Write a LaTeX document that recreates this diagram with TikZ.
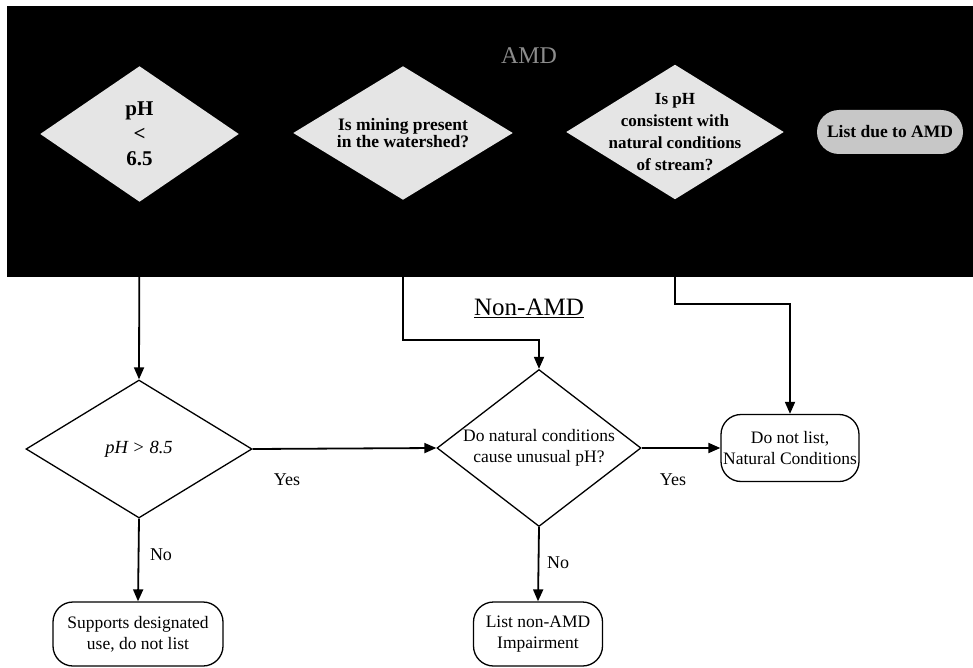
\documentclass[tikz,border=0pt]{standalone}
\usepackage{fontspec}
\setmainfont{Liberation Serif}
\usetikzlibrary{shapes.geometric,arrows.meta}
\tikzset{
  dia/.style={shape=diamond, draw=black, line width=1.3pt, inner sep=0pt},
  topdia/.style={dia, fill=white!90!black, draw=none},
  lbl/.style={align=center, font=\fontsize{17.5}{21}\selectfont},
  toplbl/.style={align=center, font=\bfseries\fontsize{17}{22}\selectfont},
  endbox/.style={draw=black, line width=1.3pt, rounded corners=20pt, inner sep=0pt, align=center, font=\fontsize{17.5}{21}\selectfont},
  arr/.style={line width=1.8pt, -{Triangle[width=10pt,length=12pt]}},
  yn/.style={font=\fontsize{18}{20}\selectfont}
}
\begin{document}
\begin{tikzpicture}[x=1pt,y=-1pt]
\useasboundingbox (0,0) rectangle (973,668);
\fill[black] (7,6) rectangle (973,277);
\node[text=black!45, font=\fontsize{24}{26}\selectfont] (amd) at (529,56) {AMD};
\node[topdia, minimum width=199pt, minimum height=136pt,
  label={[align=center, font=\bfseries\fontsize{21}{25}\selectfont]center:{pH\\<\\6.5}}] (d1) at (139.5,134) {};
\node[topdia, minimum width=220pt, minimum height=134pt,
  label={[align=center, font=\bfseries\fontsize{17.5}{17}\selectfont]center:{Is mining present\\in the watershed?}}] (d2) at (403,133) {};
\node[topdia, minimum width=218pt, minimum height=135pt,
  label={[toplbl]center:{Is pH\\consistent with\\natural conditions\\of stream?}}] (d3) at (675,132) {};
\node[fill=white!78!black, rounded corners=22pt, minimum width=146pt, minimum height=44pt, inner sep=0pt,
  font=\bfseries\fontsize{17.5}{20}\selectfont] (due) at (890,132) {List due to AMD};

\node[dia, minimum width=226pt, minimum height=138pt,
  label={[font=\itshape\fontsize{18.5}{20}\selectfont]center:{pH > 8.5}}] (d4) at (139,449) {};
\node[dia, minimum width=204pt, minimum height=157pt,
  label={[lbl]center:{Do natural conditions\\cause unusual pH?}}] (d5) at (539,448) {};
\node[endbox, minimum width=138pt, minimum height=67pt] (nat) at (790,448) {Do not list,\\Natural Conditions};
\node[endbox, minimum width=170pt, minimum height=64pt] (sup) at (138,634) {Supports designated\\use, do not list};
\node[endbox, minimum width=129pt, minimum height=64pt] (lna) at (538,634) {List non-AMD\\Impairment};

\node[font=\fontsize{25}{28}\selectfont] (nonamd) at (529,308) {\underline{Non-AMD}};
\node[yn] (y1) at (287,480) {Yes};
\node[yn] (y2) at (673,480) {Yes};
\node[yn] (n1) at (161,555) {No};
\node[yn] (n2) at (558,563) {No};

\coordinate (k2) at (403,340);
\coordinate (k3) at (675,304);
\draw[arr] (d1.south) -- (d4.north);
\draw[arr] (d2.south) -- (k2) -| (d5.north);
\draw[arr] (d3.south) -- (k3) -| (nat.north);
\draw[arr] (d4.east) -- (d5.west);
\draw[arr] (d5.east) -- (nat.west);
\draw[arr] (d4.south) -- (sup.north);
\draw[arr] (d5.south) -- (lna.north);
\end{tikzpicture}
\end{document}
